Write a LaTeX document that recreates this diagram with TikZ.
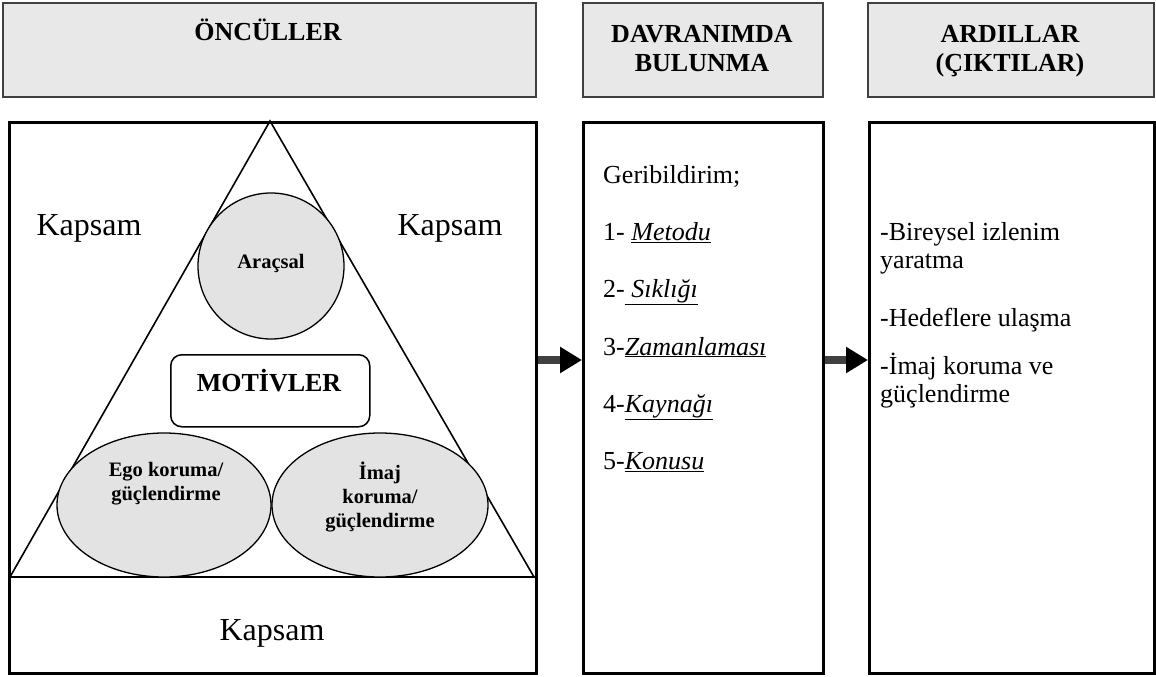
\documentclass[tikz,border=0pt]{standalone}
\usepackage{fontspec}
\setmainfont{Liberation Serif}
\usetikzlibrary{arrows.meta,shapes.geometric}

\tikzset{
  headbox/.style={draw=black!75, line width=1.6pt, fill=black!9, anchor=north west, inner sep=0pt},
  headtext/.style={font=\fontsize{26}{28}\selectfont\bfseries, anchor=base, inner sep=0pt},
  mainbox/.style={draw=black, line width=3pt, fill=white, anchor=north west, inner sep=0pt},
  triline/.style={draw=black, line width=1.6pt},
  blob/.style={draw=black, line width=1.3pt, fill=black!11, inner sep=0pt},
  blobtext/.style={font=\fontsize{20.5}{24}\selectfont\bfseries, align=center, inner sep=0pt},
  motivbox/.style={draw=black, line width=1.5pt, fill=white, rounded corners=11pt, anchor=north west, inner sep=0pt},
  scopetext/.style={font=\fontsize{32}{36}\selectfont, anchor=base, inner sep=0pt},
  listtext/.style={font=\fontsize{26}{28}\selectfont, anchor=base west, inner sep=0pt},
  fatarrow/.style={draw=black!75, line width=8pt, -{Triangle[length=22pt,width=25pt,color=black,fill=black]}},
}

\begin{document}
\begin{tikzpicture}[x=1pt,y=-1pt]
\useasboundingbox (0,0) rectangle (1156,677);

% column headers
\node[headbox, minimum width=533pt, minimum height=94pt] (h1) at (2,2) {};
\node[headbox, minimum width=240pt, minimum height=94pt] (h2) at (582,2) {};
\node[headbox, minimum width=286pt, minimum height=94pt] (h3) at (867,2) {};
\node[headtext] (h1t) at (268,41) {ÖNCÜLLER};
\node[headtext] (h2t) at (702,43) {DAVRANIMDA};
\node[headtext] (h2u) at (702,71) {BULUNMA};
\node[headtext] (h3t) at (1010,43) {ARDILLAR};
\node[headtext] (h3u) at (1010,71) {(ÇIKTILAR)};

% main columns
\node[mainbox, minimum width=527pt, minimum height=551pt] (b1) at (8,121) {};
\node[mainbox, minimum width=240pt, minimum height=551pt] (b2) at (582,121) {};
\node[mainbox, minimum width=285pt, minimum height=551pt] (b3) at (868,121) {};

% motive triangle
\coordinate (apex) at (270,121);
\coordinate (baseL) at (10,577);
\coordinate (baseR) at (534,577);
\draw[triline] (baseL) -- (apex) -- (baseR);
\draw[triline] (b1.west |- baseL) -- (b1.east |- baseR);

\node[blob, circle, minimum size=146pt] (arac) at (271,266) {};
\node[blobtext] (aract) at (271,263) {Araçsal};

\node[motivbox, minimum width=199pt, minimum height=72pt] (motiv) at (170,354) {};
\node[headtext] (motivt) at (269,391) {MOTİVLER};

\node[blob, ellipse, minimum width=214pt, minimum height=144pt] (ego) at (164,505) {};
\node[blob, ellipse, minimum width=216pt, minimum height=144pt] (imaj) at (380,505) {};
\node[blobtext] (egot) at (166,484) {Ego koruma/\\güçlendirme};
\node[blobtext] (imajt) at (380,497) {İmaj\\koruma/\\güçlendirme};

\node[scopetext] (kl) at (89,235) {Kapsam};
\node[scopetext] (kr) at (450,235) {Kapsam};
\node[scopetext] (kb) at (272,640) {Kapsam};

% behaviour column
\node[listtext] (g0) at (603,183) {Geribildirim;};
\node[listtext] (g1) at (603,240) {1- \underline{\textit{Metodu}}};
\node[listtext] (g2) at (603,297) {2-\underline{\ \textit{Sıklığı}}};
\node[listtext] (g3) at (603,355) {3-\underline{\textit{Zamanlaması}}};
\node[listtext] (g4) at (603,412) {4-\underline{\textit{Kaynağı}}};
\node[listtext] (g5) at (603,469) {5-\underline{\textit{Konusu}}};

% outcomes column
\node[listtext] (o1) at (880,240) {-Bireysel izlenim};
\node[listtext] (o1b) at (880,268) {yaratma};
\node[listtext] (o2) at (880,326) {-Hedeflere ulaşma};
\node[listtext] (o3) at (880,374) {-İmaj koruma ve};
\node[listtext] (o3b) at (880,402) {güçlendirme};

% flow arrows
\coordinate (arrowrow) at (0,360);
\draw[fatarrow] (b1.east |- arrowrow) -- (b2.west |- arrowrow);
\draw[fatarrow] (b2.east |- arrowrow) -- (b3.west |- arrowrow);
\end{tikzpicture}
\end{document}
